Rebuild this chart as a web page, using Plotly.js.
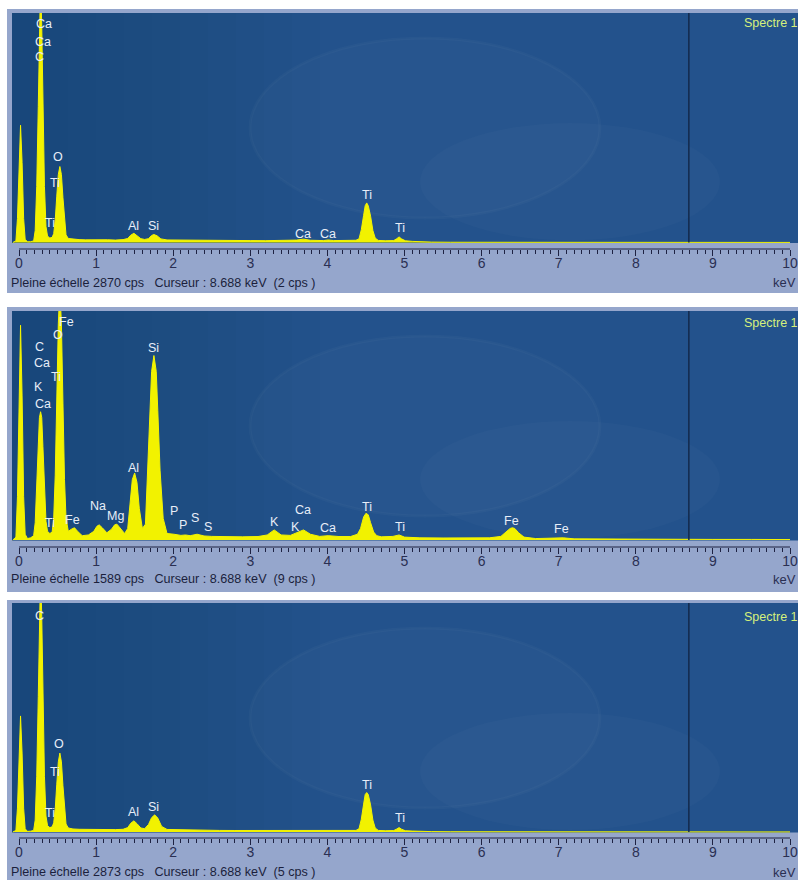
<!DOCTYPE html>
<html><head><meta charset="utf-8">
<script src="https://cdn.plot.ly/plotly-3.0.1.min.js"></script>
<style>html,body{margin:0;padding:0;background:#fff;overflow:hidden}</style>
</head><body><div id="chart" style="width:798px;height:880px"></div>
<script>
// ---------------- DATA ----------------
const spectrumName = "Spectre 1";
const fullScaleCps = [2870, 1589, 2873];
const cursorKeV = 8.688;
const cursorCps = [2, 9, 5];
const tickLabels = ["0","1","2","3","4","5","6","7","8","9","10"];

// Panel 1 spectrum (keV, cps)
const energy1 = [
-0.08, -0.04, -0.02, 0.00, 0.02, 0.04, 0.06, 0.08, 0.11, 0.15,
0.19, 0.21, 0.23, 0.25, 0.265, 0.28, 0.295, 0.31, 0.33, 0.35,
0.37, 0.40, 0.43, 0.45, 0.47, 0.49, 0.51, 0.53, 0.55, 0.57,
0.59, 0.61, 0.64, 0.70, 0.78, 0.86, 0.95, 1.05, 1.15, 1.25,
1.35, 1.41, 1.45, 1.49, 1.53, 1.58, 1.63, 1.68, 1.72, 1.75,
1.79, 1.84, 1.92, 2.05, 2.20, 2.40, 2.60, 2.80, 3.00, 3.20,
3.40, 3.60, 3.69, 3.78, 3.95, 4.01, 4.08, 4.25, 4.37, 4.41,
4.44, 4.47, 4.49, 4.51, 4.53, 4.56, 4.59, 4.62, 4.66, 4.75,
4.86, 4.90, 4.93, 4.96, 5.01, 5.10, 5.20, 5.35, 5.60, 6.00,
6.50, 7.00, 7.50, 8.00, 8.50, 9.00, 9.50, 10.00];
const counts1 = [
0, 20, 300, 1000, 1466, 1000, 300, 40, 8, 10,
20, 150, 700, 1700, 2700, 3300, 2700, 1700, 700, 200,
80, 55, 65, 110, 280, 580, 850, 950, 850, 560,
260, 95, 50, 40, 36, 33, 35, 32, 34, 30,
36, 50, 92, 115, 90, 48, 38, 48, 88, 100,
84, 45, 32, 30, 28, 26, 25, 25, 24, 23,
24, 30, 42, 28, 24, 32, 24, 22, 28, 45,
160, 340, 460, 495, 460, 330, 150, 55, 26, 22,
24, 48, 70, 46, 22, 14, 8, 5, 3, 3,
2, 2, 2, 2, 2, 2, 2, 1];

// Panel 2 spectrum
const energy2 = [
-0.08, -0.04, -0.02, 0.00, 0.02, 0.04, 0.06, 0.08, 0.11, 0.15,
0.19, 0.21, 0.23, 0.25, 0.265, 0.28, 0.295, 0.31, 0.33, 0.35,
0.37, 0.40, 0.43, 0.45, 0.47, 0.49, 0.51, 0.53, 0.55, 0.57,
0.59, 0.61, 0.64, 0.68, 0.72, 0.76, 0.82, 0.90, 0.97, 1.01,
1.04, 1.08, 1.14, 1.20, 1.24, 1.27, 1.31, 1.37, 1.41, 1.44,
1.47, 1.50, 1.53, 1.56, 1.60, 1.64, 1.67, 1.70, 1.72, 1.75,
1.78, 1.80, 1.83, 1.87, 1.92, 2.01, 2.10, 2.16, 2.22, 2.31,
2.40, 2.50, 2.70, 2.90, 3.10, 3.22, 3.31, 3.40, 3.52, 3.60,
3.69, 3.78, 3.90, 4.01, 4.15, 4.30, 4.39, 4.43, 4.47, 4.50,
4.53, 4.56, 4.60, 4.64, 4.70, 4.85, 4.93, 5.00, 5.20, 5.50,
5.80, 6.10, 6.25, 6.32, 6.37, 6.40, 6.43, 6.48, 6.55, 6.70,
6.95, 7.06, 7.20, 7.60, 8.00, 8.50, 9.00, 9.50, 10.00];
const counts2 = [
0, 20, 300, 1000, 1490, 1000, 300, 40, 10, 15,
30, 120, 400, 700, 850, 890, 850, 650, 350, 130,
60, 45, 55, 150, 450, 950, 1500, 1750, 1500, 950,
420, 150, 60, 75, 85, 60, 30, 35, 60, 95,
105, 85, 50, 75, 105, 110, 85, 45, 80, 250,
420, 465, 400, 220, 80, 110, 480, 900, 1170, 1280,
1170, 900, 480, 150, 45, 40, 32, 35, 30, 40,
28, 25, 22, 22, 24, 35, 70, 35, 32, 48,
70, 40, 25, 30, 24, 24, 40, 80, 160, 185,
175, 120, 55, 30, 22, 25, 35, 20, 15, 14,
14, 15, 25, 55, 80, 85, 80, 50, 20, 10,
10, 15, 8, 6, 5, 5, 4, 4, 3];

// Panel 3 spectrum
const energy3 = [
-0.08, -0.04, -0.02, 0.00, 0.02, 0.04, 0.06, 0.08, 0.11, 0.15,
0.19, 0.21, 0.23, 0.25, 0.265, 0.28, 0.295, 0.31, 0.33, 0.35,
0.37, 0.40, 0.43, 0.45, 0.47, 0.49, 0.51, 0.53, 0.55, 0.57,
0.59, 0.61, 0.64, 0.70, 0.78, 0.86, 0.95, 1.05, 1.15, 1.25,
1.35, 1.41, 1.45, 1.49, 1.53, 1.58, 1.63, 1.68, 1.72, 1.76,
1.80, 1.85, 1.92, 2.05, 2.20, 2.40, 2.60, 2.80, 3.00, 3.20,
3.40, 3.60, 3.69, 3.78, 3.95, 4.01, 4.08, 4.25, 4.37, 4.41,
4.44, 4.47, 4.49, 4.51, 4.53, 4.56, 4.59, 4.62, 4.66, 4.75,
4.86, 4.90, 4.93, 4.96, 5.01, 5.10, 5.20, 5.35, 5.60, 6.00,
6.50, 7.00, 7.50, 8.00, 8.50, 9.00, 9.50, 10.00];
const counts3 = [
0, 20, 300, 990, 1456, 990, 300, 40, 8, 10,
20, 150, 700, 1700, 2700, 3300, 2700, 1700, 700, 200,
80, 55, 65, 115, 290, 600, 880, 990, 880, 580,
270, 100, 50, 38, 34, 32, 33, 31, 32, 30,
34, 55, 110, 140, 105, 50, 42, 95, 180, 215,
175, 70, 32, 28, 25, 22, 20, 19, 18, 18,
17, 17, 18, 17, 16, 16, 15, 15, 20, 40,
160, 350, 470, 495, 470, 340, 150, 50, 20, 16,
18, 38, 55, 36, 16, 12, 8, 5, 3, 3,
2, 2, 2, 2, 2, 2, 2, 1];

// Element labels (text, keV position)
const labels1 = ["Ca","Ca","C","O","Ti","Ti","Al","Si","Ca","Ca","Ti","Ti"];
const labelKeV1 = [0.32,0.31,0.26,0.51,0.47,0.40,1.49,1.74,3.68,4.01,4.51,4.94];
const labels2 = ["Fe","O","C","Ca","Ti","K","Ca","Si","Al","Na","Mg","Ti","Fe","P","P","S","S","K","K","Ca","Ca","Ti","Ti","Fe","Fe"];
const labelKeV2 = [0.62,0.51,0.26,0.30,0.48,0.25,0.31,1.74,1.49,1.02,1.25,0.40,0.69,2.01,2.13,2.28,2.45,3.31,3.58,3.68,4.01,4.51,4.94,6.39,7.04];
const labels3 = ["C","O","Ti","Ti","Al","Si","Ti","Ti"];
const labelKeV3 = [0.27,0.52,0.47,0.40,1.48,1.74,4.51,4.94];

// ---------------- LAYOUT (pixel geometry / styles) ----------------
const W = 798, H = 880;
const labelYpx = [
  [24,42,57,157,183,223,226,226,234,234,195,228],
  [322,335,347,363,377,387,404,348,468,506,516,523,520,511,525,518,527,522,527,510,528,507,527,521,529],
  [616,744,772,813,812,807,785,818]
];
const geo = [
  {frameTop:9,   frameBot:293, top:13,  zero:242.5, axis:249, foot:283, spec:23},
  {frameTop:307, frameBot:592, top:311, zero:540,   axis:547, foot:579, spec:323},
  {frameTop:600, frameBot:880, top:603, zero:832,   axis:838, foot:872, spec:617}
];
const plotLeft = 12, plotRight = 797.5, frameLeft = 7;
const keV0px = 19, pxPerKeV = 77.1;
const xr = [(plotLeft-keV0px)/pxPerKeV, (plotRight-keV0px)/pxPerKeV];
const py = p => 1 - p/H;
const px = p => p/W;

const energies = [energy1, energy2, energy3];
const counts = [counts1, counts2, counts3];
const labels = [labels1, labels2, labels3];
const labelKeV = [labelKeV1, labelKeV2, labelKeV3];

const FONT = "Liberation Sans, Arial, sans-serif";
const NB = "\u00a0";
const data = [];
const shapes = [];
const annotations = [];
const layout = {
  width: W, height: H,
  margin: {l:0, r:0, t:0, b:0},
  paper_bgcolor: "#ffffff",
  plot_bgcolor: "rgba(0,0,0,0)",
  showlegend: false,
  font: {family: FONT}
};

for (let i = 0; i < 3; i++) {
  const g = geo[i];
  const sfx = i === 0 ? "" : String(i+1);
  const xa = "x" + sfx, ya = "y" + sfx;
  const fs = fullScaleCps[i];
  const cpp = fs / (g.zero - g.top);
  const yLow = -(g.axis - g.zero) * cpp;

  // frame + plot area backgrounds
  shapes.push({type:"rect", xref:"paper", yref:"paper", layer:"below",
    x0:px(frameLeft), x1:1, y0:py(g.frameBot), y1:py(g.frameTop),
    fillcolor:"#95a6cc", line:{width:0}});
  shapes.push({type:"rect", xref:"paper", yref:"paper", layer:"below",
    x0:px(plotLeft), x1:1, y0:py(g.zero+0.5), y1:py(g.top),
    fillcolor:"#23528c", line:{width:0}});
  // soft darker left side (fine steps)
  for (let r = 40; r <= 320; r += 28) {
    shapes.push({type:"rect", xref:"paper", yref:"paper", layer:"below",
      x0:px(plotLeft), x1:px(r), y0:py(g.zero+0.5), y1:py(g.top),
      fillcolor:"rgba(0,10,40,0.007)", line:{width:0}});
  }
  // subtle watermark ovals
  shapes.push({type:"circle", xref:"paper", yref:"paper", layer:"below",
    x0:px(250), x1:px(600), y0:py(g.top+205), y1:py(g.top+25),
    fillcolor:"rgba(255,255,255,0.02)", line:{color:"rgba(255,255,255,0.025)", width:3}});
  shapes.push({type:"circle", xref:"paper", yref:"paper", layer:"below",
    x0:px(420), x1:px(720), y0:py(g.zero-2), y1:py(g.top+110),
    fillcolor:"rgba(255,255,255,0.018)", line:{width:0}});

  // cursor line
  shapes.push({type:"line", xref:xa, yref:ya, x0:cursorKeV, x1:cursorKeV, y0:0, y1:fs,
    line:{color:"#132a4c", width:1.5}});
  // axis line 0..10 keV
  shapes.push({type:"line", xref:xa, yref:ya+" domain", x0:0, x1:10, y0:0, y1:0,
    line:{color:"#1e2242", width:1}});

  data.push({type:"scatter", mode:"lines", x:energies[i], y:counts[i], xaxis:xa, yaxis:ya,
    line:{color:"#f4f400", width:1}, fill:"tozeroy", fillcolor:"#f2f200", hoverinfo:"skip"});

  layout["xaxis"+sfx] = {
    domain:[px(plotLeft), px(plotRight)], range:xr, anchor:ya,
    showgrid:false, zeroline:false, showline:false, fixedrange:true,
    tickmode:"linear", tick0:0, dtick:1,
    ticks:"outside", ticklen:6, tickwidth:1, tickcolor:"#1e2242",
    ticklabelstandoff:-5,
    minor:{tickmode:"linear", tick0:0, dtick:0.1, ticks:"outside", ticklen:3.5, tickwidth:1, tickcolor:"#1e2242", showgrid:false},
    tickfont:{family:FONT, size:14, color:"#2a2f52"}
  };
  layout["yaxis"+sfx] = {
    domain:[py(g.axis), py(g.top)], range:[yLow, fs], anchor:xa,
    visible:false, fixedrange:true
  };

  // element labels
  labels[i].forEach((t, k) => {
    annotations.push({xref:xa, yref:"paper", x:labelKeV[i][k], y:py(labelYpx[i][k]),
      text:t, showarrow:false, xanchor:"center", yanchor:"middle",
      font:{family:FONT, size:12.5, color:"#e8eef8"}});
  });
  // Spectre label
  annotations.push({xref:"paper", yref:"paper", x:px(742), y:py(g.spec), text:spectrumName,
    showarrow:false, xanchor:"left", yanchor:"middle",
    font:{family:FONT, size:12.5, color:"#d6f07c"}});
  // keV unit
  annotations.push({xref:"paper", yref:"paper", x:px(784), y:py(g.foot), text:"keV",
    showarrow:false, xanchor:"center", yanchor:"middle",
    font:{family:FONT, size:13, color:"#2a2f52"}});
  // footer
  annotations.push({xref:"paper", yref:"paper", x:px(9), y:py(g.foot),
    text:"Pleine échelle " + fs + " cps" + NB+NB+NB + "Curseur : " + cursorKeV.toFixed(3) + " keV" + NB+NB + "(" + cursorCps[i] + " cps )",
    showarrow:false, xanchor:"left", yanchor:"middle",
    font:{family:FONT, size:12.6, color:"#1b1f3c"}});
}
layout.shapes = shapes;
layout.annotations = annotations;

Plotly.newPlot("chart", data, layout, {displayModeBar:false, staticPlot:true});
</script></body></html>
